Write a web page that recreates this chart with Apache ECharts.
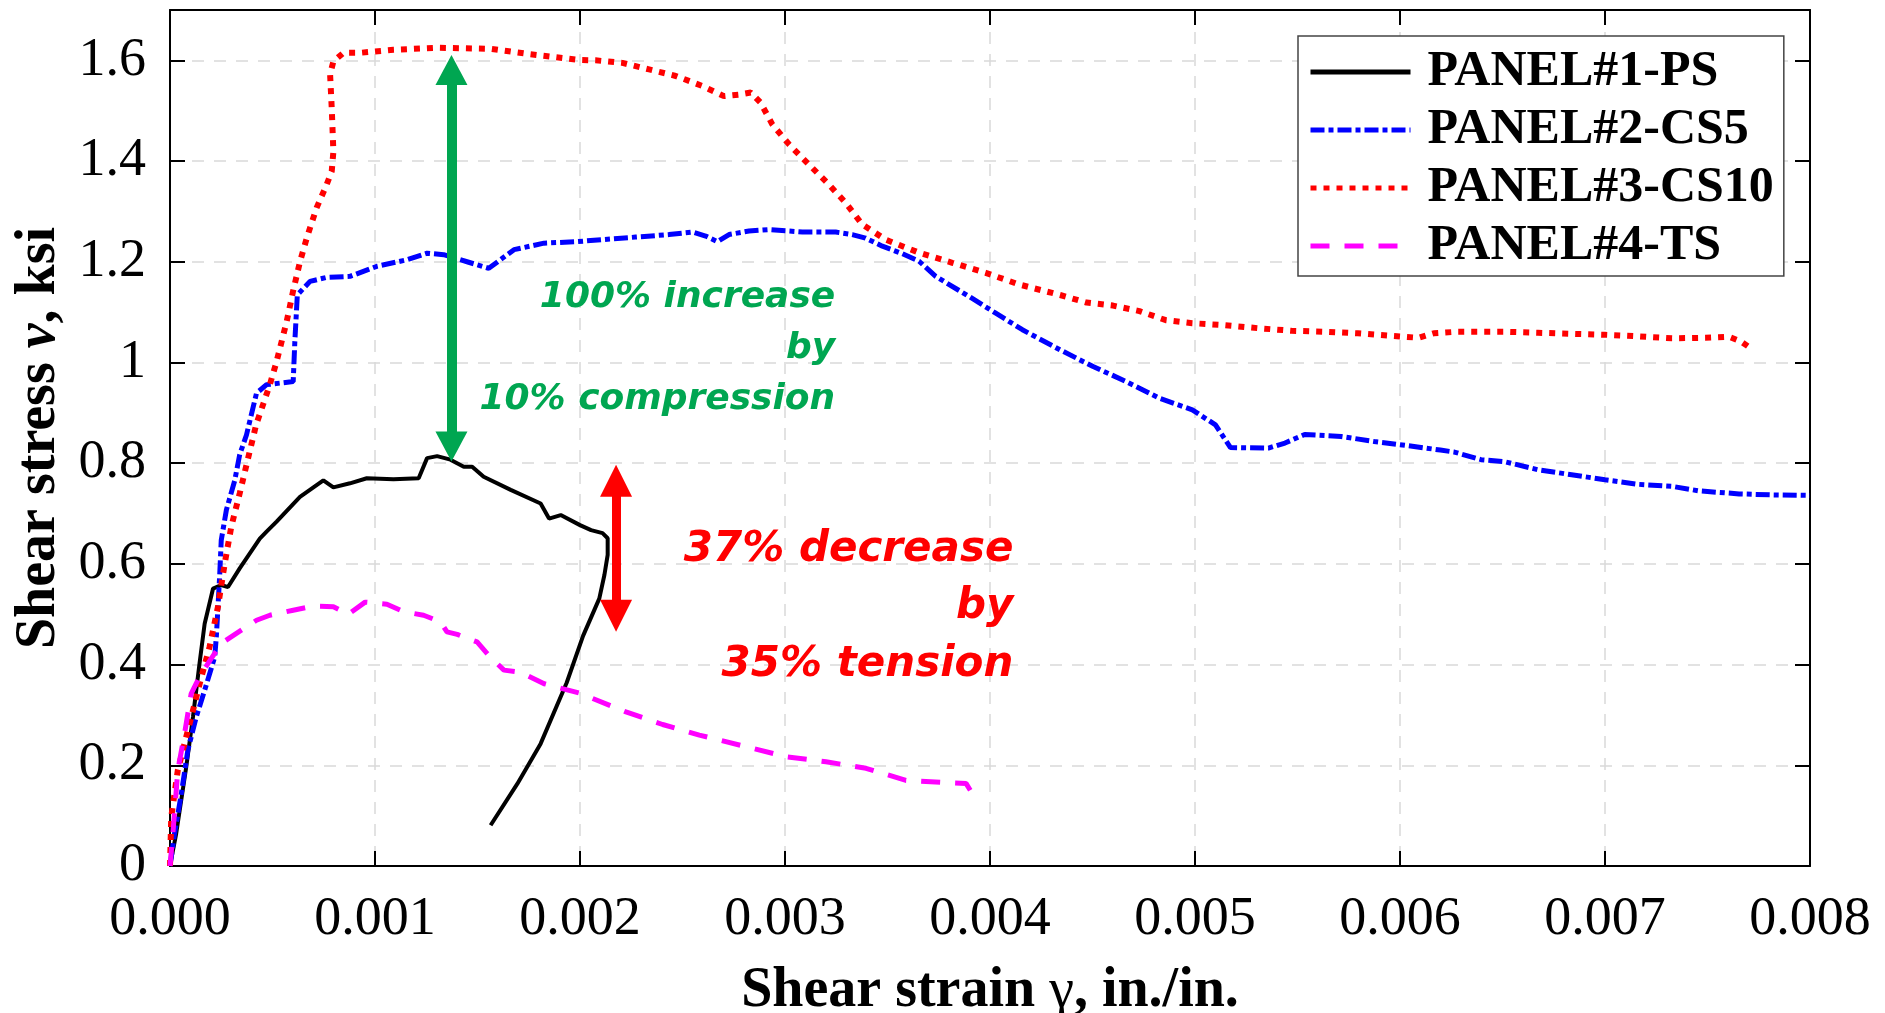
<!DOCTYPE html>
<html>
<head>
<meta charset="utf-8">
<script src="https://cdn.jsdelivr.net/npm/echarts@6/dist/echarts.min.js"></script>
<style>
html,body{margin:0;padding:0;background:#fff;}
#chart{width:1885px;height:1013px;}
</style>
</head>
<body>
<div id="chart"></div>
<script>
// ---------- data ----------
const seriesNames = ['PANEL#1-PS', 'PANEL#2-CS5', 'PANEL#3-CS10', 'PANEL#4-TS'];
const xTickLabels = ['0.000','0.001','0.002','0.003','0.004','0.005','0.006','0.007','0.008'];
const yTickLabels = ['0','0.2','0.4','0.6','0.8','1','1.2','1.4','1.6'];

const ps_x = [0,0.00003,0.000079,0.000112,0.000144,0.000169,0.00021,0.00025,0.000283,0.00034,0.000438,0.000471,0.00052,0.000634,0.000748,0.000797,0.000878,0.00096,0.00109,0.001213,0.001254,0.001303,0.001368,0.001433,0.001474,0.00153,0.001662,0.001808,0.001849,0.001906,0.002,0.002054,0.00211,0.002135,0.002135,0.002119,0.002094,0.002015,0.001935,0.001808,0.001694,0.001564];
const ps_y = [0,0.064,0.196,0.296,0.402,0.481,0.551,0.558,0.554,0.591,0.65,0.664,0.684,0.733,0.766,0.752,0.76,0.77,0.768,0.77,0.81,0.814,0.807,0.793,0.793,0.773,0.747,0.72,0.69,0.697,0.677,0.667,0.661,0.651,0.618,0.578,0.531,0.457,0.364,0.243,0.163,0.081];

const cs5_x = [0,0.000022,0.000055,0.000087,0.000128,0.000169,0.000218,0.000226,0.000242,0.00025,0.000275,0.000316,0.00034,0.000373,0.000422,0.000471,0.000601,0.000609,0.000621,0.000683,0.000764,0.000878,0.001009,0.001156,0.001254,0.001335,0.001449,0.001555,0.001678,0.001824,0.001988,0.002109,0.002271,0.002434,0.002548,0.002613,0.00267,0.002727,0.002824,0.002922,0.003085,0.003247,0.003328,0.003393,0.003475,0.003572,0.003654,0.003735,0.003898,0.004028,0.004158,0.004342,0.004503,0.004665,0.004826,0.004987,0.0051,0.005173,0.005358,0.005439,0.005535,0.005713,0.005874,0.006035,0.006197,0.006265,0.006395,0.00651,0.006673,0.006837,0.007,0.007163,0.007327,0.007458,0.007654,0.007817,0.008];
const cs5_y = [0,0.064,0.143,0.23,0.296,0.349,0.415,0.455,0.574,0.647,0.707,0.766,0.817,0.856,0.939,0.956,0.962,1.042,1.134,1.161,1.169,1.171,1.191,1.204,1.217,1.214,1.2,1.187,1.224,1.237,1.24,1.244,1.249,1.254,1.259,1.251,1.24,1.254,1.261,1.264,1.259,1.259,1.254,1.247,1.231,1.216,1.201,1.171,1.131,1.098,1.065,1.025,0.992,0.962,0.929,0.906,0.876,0.831,0.83,0.84,0.857,0.853,0.843,0.835,0.826,0.822,0.807,0.803,0.787,0.777,0.767,0.758,0.754,0.745,0.739,0.737,0.736];

const cs10_x = [0,0.000006,0.000038,0.000079,0.000112,0.000153,0.000193,0.000234,0.000267,0.000299,0.00034,0.000381,0.00042,0.000487,0.00052,0.000569,0.0006,0.000634,0.000667,0.000715,0.000764,0.000789,0.000797,0.000789,0.000781,0.000797,0.000846,0.000927,0.00109,0.001303,0.001564,0.001743,0.001988,0.002076,0.002207,0.002337,0.002467,0.002597,0.002702,0.002776,0.002833,0.002881,0.002938,0.00302,0.003117,0.003215,0.003296,0.003377,0.003491,0.003654,0.003816,0.003979,0.004141,0.004342,0.004471,0.0046,0.004729,0.004858,0.004987,0.005148,0.00531,0.005471,0.005632,0.005794,0.005955,0.006092,0.006165,0.006277,0.00651,0.006673,0.006837,0.007,0.007163,0.007327,0.00749,0.007605,0.007662,0.007719];
const cs10_y = [0,0.097,0.19,0.256,0.309,0.375,0.435,0.515,0.601,0.674,0.74,0.81,0.876,0.956,1.002,1.081,1.141,1.2,1.247,1.307,1.353,1.38,1.419,1.505,1.572,1.598,1.615,1.615,1.621,1.625,1.623,1.613,1.601,1.6,1.595,1.582,1.569,1.549,1.529,1.532,1.536,1.516,1.473,1.433,1.393,1.353,1.317,1.274,1.244,1.218,1.198,1.178,1.155,1.134,1.119,1.113,1.102,1.084,1.078,1.074,1.068,1.063,1.061,1.058,1.053,1.049,1.058,1.061,1.061,1.059,1.057,1.055,1.052,1.048,1.049,1.051,1.042,1.026];

const ts_x = [0,0.000014,0.000038,0.000071,0.000103,0.000144,0.000201,0.00025,0.000324,0.000422,0.000487,0.000601,0.000699,0.000797,0.00087,0.000952,0.001058,0.00114,0.001237,0.001319,0.001351,0.001401,0.001498,0.001555,0.001629,0.00171,0.001825,0.002,0.002224,0.002403,0.002582,0.00281,0.003005,0.0032,0.003395,0.00359,0.003769,0.003883,0.003924];
const ts_y = [0,0.064,0.19,0.263,0.342,0.376,0.412,0.442,0.462,0.488,0.498,0.508,0.516,0.515,0.5,0.524,0.52,0.505,0.498,0.485,0.465,0.46,0.445,0.418,0.389,0.385,0.362,0.343,0.306,0.281,0.26,0.237,0.217,0.207,0.194,0.17,0.166,0.164,0.137];

// annotations (data coordinates)
const greenArrow = [[0.001373, 1.581], [0.001373, 0.833]];
const redArrow = [[0.002176, 0.765], [0.002176, 0.497]];
const greenText = { coord: [0.003245, 1.027], text: '100% increase\nby\n10% compression' };
const redText = { coord: [0.004114, 0.514], text: '37% decrease\nby\n35% tension' };

// ---------- build ----------
function zip(xs, ys) { return xs.map((x, i) => [x, ys[i]]); }

const serif = "'Liberation Serif', 'Times New Roman', serif";
const annFont = "'DejaVu Sans', sans-serif";

const chart = echarts.init(document.getElementById('chart'), null, { renderer: 'canvas' });

const lineStyles = [
  { color: '#000000', width: 4, type: 'solid' },
  { color: '#0000ff', width: 5, type: [14, 4, 5, 4] },
  { color: '#ff0000', width: 6, type: [6, 7] },
  { color: '#ff00ff', width: 5, type: [19, 15] }
];
const datas = [zip(ps_x, ps_y), zip(cs5_x, cs5_y), zip(cs10_x, cs10_y), zip(ts_x, ts_y)];

const series = seriesNames.map((n, i) => ({
  name: n,
  type: 'line',
  data: datas[i],
  showSymbol: false,
  symbol: 'none',
  smooth: false,
  lineStyle: lineStyles[i],
  itemStyle: { color: lineStyles[i].color },
  emphasis: { disabled: true },
  z: 2
}));

function arrowLine(pts, color, width, head) {
  return [
    { coord: pts[0], symbol: 'triangle', symbolSize: head,
      lineStyle: { color: color, width: width, type: 'solid' } },
    { coord: pts[1], symbol: 'triangle', symbolSize: head }
  ];
}

series.push({
  name: 'annotations',
  type: 'line',
  data: [],
  showSymbol: false,
  z: 5,
  markLine: {
    silent: true,
    animation: false,
    label: { show: false },
    emphasis: { disabled: true },
    symbol: ['triangle', 'triangle'],
    data: [
      arrowLine(greenArrow, '#00a651', 10, [32, 30]),
      arrowLine(redArrow, '#ff0000', 9, [32, 32])
    ]
  },
  markPoint: {
    silent: true,
    animation: false,
    symbol: 'rect',
    symbolSize: 1,
    itemStyle: { color: 'rgba(0,0,0,0)' },
    data: [
      { coord: greenText.coord,
        label: { show: true, position: 'inside', formatter: greenText.text, align: 'right', verticalAlign: 'middle',
          color: '#00a651', fontFamily: annFont, fontWeight: 'bold', fontStyle: 'italic', fontSize: 36, lineHeight: 51 } },
      { coord: redText.coord,
        label: { show: true, position: 'inside', formatter: redText.text, align: 'right', verticalAlign: 'middle',
          color: '#ff0000', fontFamily: annFont, fontWeight: 'bold', fontStyle: 'italic', fontSize: 42, lineHeight: 57.5 } }
    ]
  }
});

const gridLine = { show: true, lineStyle: { color: '#d9d9d9', width: 1.5, type: [12, 10] } };
const axisLineStyle = { show: true, onZero: false, lineStyle: { color: '#000', width: 2 } };
const tick = { show: true, inside: true, length: 15, lineStyle: { color: '#000', width: 2 } };

const option = {
  animation: false,
  backgroundColor: '#ffffff',
  grid: { left: 170, right: 75, top: 10, bottom: 147, containLabel: false, outerBoundsMode: 'none' },
  legend: {
    data: seriesNames,
    orient: 'vertical',
    left: 1298,
    top: 36,
    backgroundColor: '#ffffff',
    borderColor: '#444444',
    borderWidth: 1.5,
    padding: [11, 10, 5, 10],
    itemWidth: 100,
    itemHeight: 20,
    itemGap: 8,
    selectedMode: false,
    itemStyle: { opacity: 0, color: 'rgba(0,0,0,0)', borderWidth: 0 },
    lineStyle: { width: 5 },
    textStyle: { fontFamily: serif, fontWeight: 'bold', fontSize: 50, lineHeight: 50, color: '#000', padding: [0, 0, 0, 12] }
  },
  xAxis: [{
    type: 'value', min: 0, max: 0.008, interval: 0.001, position: 'bottom',
    name: '{b|Shear strain }{g|γ}{b|, in./in.}',
    nameLocation: 'middle', nameGap: 98,
    nameTextStyle: { rich: {
      b: { fontFamily: serif, fontWeight: 'bold', fontSize: 56, color: '#000' },
      g: { fontFamily: serif, fontWeight: 'normal', fontSize: 56, color: '#000' } } },
    axisLine: axisLineStyle, axisTick: tick, splitLine: gridLine,
    axisLabel: { margin: 27, fontFamily: serif, fontSize: 54, color: '#000',
      formatter: v => xTickLabels[Math.round(v / 0.001)] }
  }, {
    type: 'value', min: 0, max: 0.008, interval: 0.001, position: 'top',
    axisLine: axisLineStyle, axisTick: tick, splitLine: { show: false }, axisLabel: { show: false }
  }],
  yAxis: [{
    type: 'value', min: 0, max: 1.7, interval: 0.2, position: 'left',
    name: '{b|Shear stress }{i|ν}{b|, ksi}',
    nameLocation: 'middle', nameGap: 100, nameRotate: 90,
    nameTextStyle: { rich: {
      b: { fontFamily: serif, fontWeight: 'bold', fontSize: 56, color: '#000' },
      i: { fontFamily: serif, fontWeight: 'bold', fontStyle: 'italic', fontSize: 56, color: '#000' } } },
    axisLine: axisLineStyle, axisTick: tick, splitLine: gridLine,
    axisLabel: { margin: 24, fontFamily: serif, fontSize: 54, color: '#000', showMaxLabel: false,
      formatter: v => { const k = Math.round(v / 0.2); return Math.abs(v - k * 0.2) < 1e-6 ? (yTickLabels[k] || '') : ''; } }
  }, {
    type: 'value', min: 0, max: 1.7, interval: 0.2, position: 'right',
    axisLine: axisLineStyle, axisTick: tick, splitLine: { show: false }, axisLabel: { show: false }
  }],
  series: series
};

chart.setOption(option);
</script>
</body>
</html>
